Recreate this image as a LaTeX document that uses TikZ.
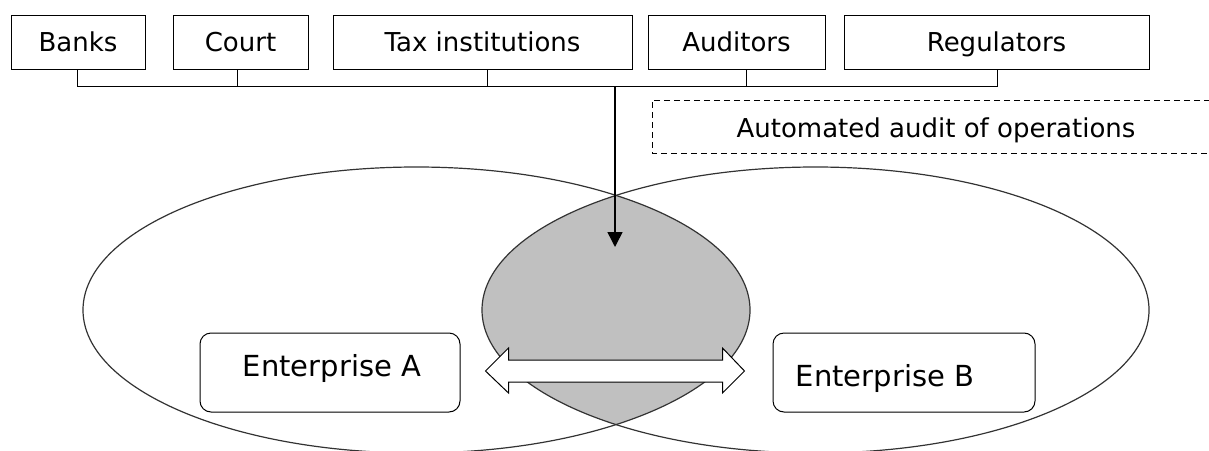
\documentclass[tikz,border=0pt]{standalone}
\usepackage{fontspec}
\setmainfont{DejaVu Sans}
\usetikzlibrary{arrows.meta,calc}
\definecolor{lensgray}{RGB}{192,192,192}
\begin{document}
\begin{tikzpicture}[x=1pt,y=-1pt,
  topbox/.style={draw,line width=1pt,minimum height=54pt,inner sep=0pt,
    text height=19pt,text depth=0pt,font=\fontsize{26}{30}\selectfont},
  entbox/.style={draw,line width=1pt,rounded corners=11pt,minimum height=79pt,
    inner sep=0pt,fill=white},
  enttext/.style={inner sep=0pt,text height=21.2pt,text depth=0pt,
    font=\fontsize{29}{34}\selectfont},
  bus/.style={line width=1pt},
  venn/.style={draw=black!80,line width=1.2pt},
  feed/.style={line width=1.5pt,-{Triangle[length=15pt,width=15pt]}},
  blockarrow/.style={draw,line width=1pt,fill=white,line join=miter},
  dashbox/.style={line width=1pt,dash pattern=on 6pt off 4pt},
]
\useasboundingbox (0,0) rectangle (1209,450);

% two overlapping spheres of the enterprises, with the shared zone shaded
\begin{scope}
  \clip (416.5,310) ellipse [x radius=333.5,y radius=143];
  \fill[lensgray] (815.5,310) ellipse [x radius=333.5,y radius=143];
\end{scope}
\path[venn] (416.5,310) ellipse [x radius=333.5,y radius=143];
\path[venn] (815.5,310) ellipse [x radius=333.5,y radius=143];

% external parties
\node[topbox,minimum width=134pt] (banks) at (78,42)    {Banks};
\node[topbox,minimum width=135pt] (court) at (240.5,42) {Court};
\node[topbox,minimum width=299pt] (tax)   at (482.5,42) {Tax institutions};
\node[topbox,minimum width=177pt] (aud)   at (736.5,42) {Auditors};
\node[topbox,minimum width=305pt] (reg)   at (996.5,42) {Regulators};

% common bus joining the parties
\draw[bus] ([xshift=-1pt]banks.south) -- ++(0,17) -| ([xshift=0.5pt]reg.south);
\draw[bus] ([xshift=-3.5pt]court.south) -- ++(0,17);
\draw[bus] ([xshift=4.5pt]tax.south) -- ++(0,17);
\draw[bus] ([xshift=9.5pt]aud.south) -- ++(0,17);

% automated audit label
\draw[dashbox] (1210,100) -| (652,153) -- (1210,153);
\node[inner sep=0pt,text height=19pt,text depth=0pt,
  font=\fontsize{26}{30}\selectfont] (audit) at (936,128)
  {Automated audit of operations};

% feed into the shared zone
\coordinate (hub) at (615,86);
\coordinate (shared) at (615,247);
\draw[feed] (hub) -- (shared);

% enterprises
\node[entbox,minimum width=260pt] (entA) at (330,372.5) {};
\node[entbox,minimum width=262pt] (entB) at (904,372.5) {};
\node[enttext] (labA) at (332,366) {Enterprise A};
\node[enttext] (labB) at (885,376) {Enterprise B};

% two-way exchange between the enterprises
\coordinate (L) at ([shift={(25pt,1.5pt)}]entA.east);
\coordinate (R) at ([shift={(-28pt,1.5pt)}]entB.west);
\draw[blockarrow] (L) -- ++(23,-23) -- ++(0,12) -- ($(R)+(-22,-11)$)
  -- ++(0,-12) -- (R) -- ++(-22,22) -- ++(0,-11) -- ($(L)+(23,11)$)
  -- ++(0,11) -- cycle;
\end{tikzpicture}
\end{document}
